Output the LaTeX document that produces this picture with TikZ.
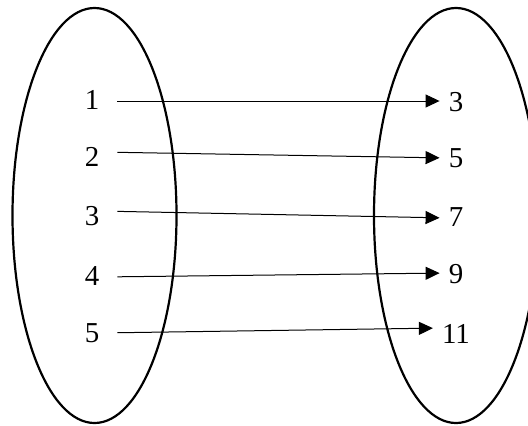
\documentclass[tikz,border=0pt]{standalone}
\usepackage{fontspec}
\setmainfont{Liberation Serif}
\usetikzlibrary{arrows.meta}

\begin{document}
\begin{tikzpicture}[x=1bp,y=-1bp,>={Triangle[length=14bp,width=13bp]},
  num/.style={inner sep=0pt,font=\fontsize{29}{32}\selectfont},
  set/.style={line width=2.2bp},
  map/.style={->,line width=1bp,shorten <=18bp,shorten >=9bp}]
  \useasboundingbox (0,0) rectangle (528,425);

  % the two sets
  \draw[set] (94.5,215.5) ellipse [x radius=82bp,y radius=207.5bp];
  \draw[set] (456,215.5) ellipse [x radius=82bp,y radius=207.5bp];

  % domain and range elements
  \foreach \i/\a/\ya/\b/\yb in {1/1/100/3/102,2/2/157/5/158,3/3/216/7/217,
                                4/4/276/9/274,5/5/333/11/334}{
    \node[num] (d\i) at (92,\ya) {\a};
    \node[num] (r\i) at (456,\yb) {\b};
  }

  % the mapping
  \foreach \i/\sa/\sb in {1/-1/1,2/5/0,3/5/-1,4/-1/1,5/0/6}{
    \draw[map] ([yshift=\sa bp]d\i.east) -- ([yshift=\sb bp]r\i.west);
  }
\end{tikzpicture}
\end{document}
